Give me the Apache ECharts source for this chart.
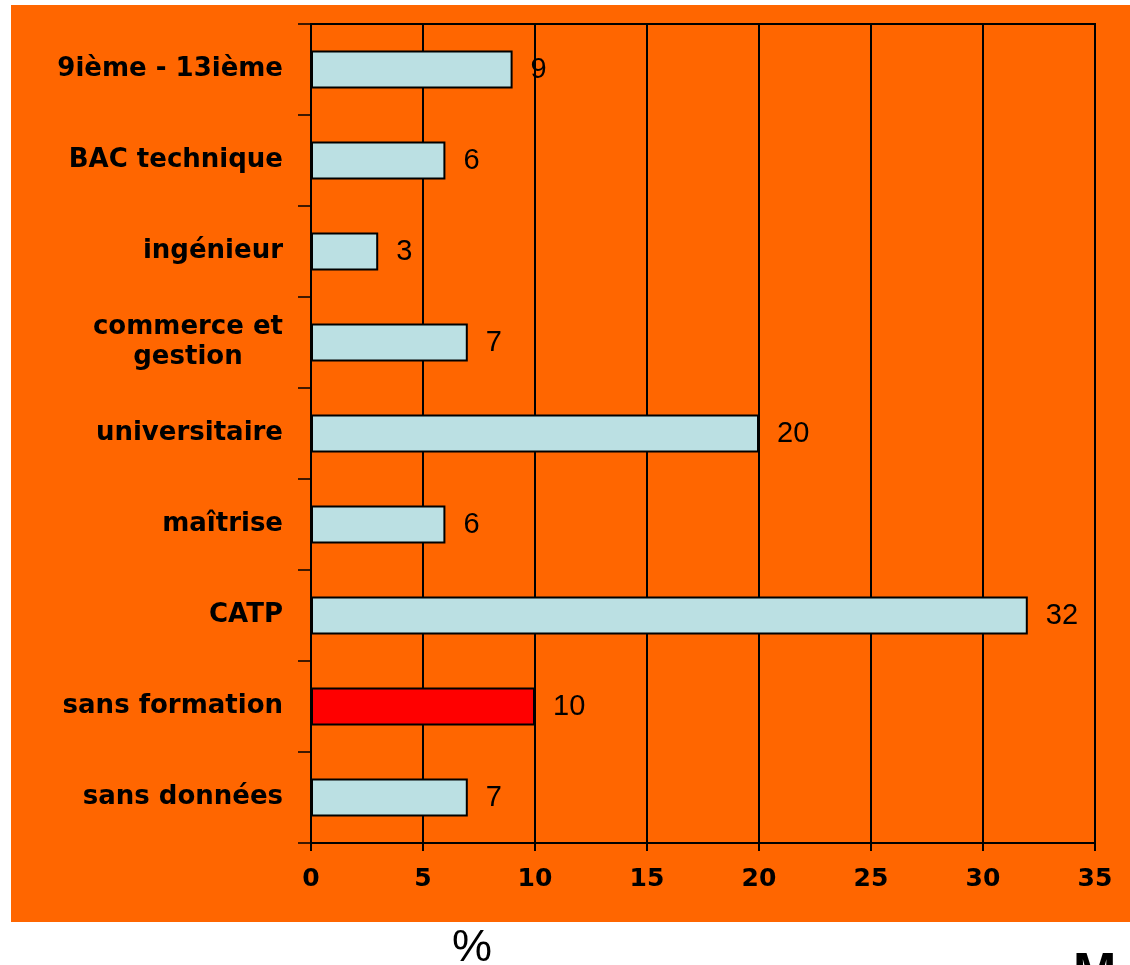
<!DOCTYPE html>
<html>
<head>
<meta charset="utf-8">
<script src="https://cdn.jsdelivr.net/npm/echarts@6/dist/echarts.min.js"></script>
<style>
html, body { margin: 0; padding: 0; background: #fff; }
#main { width: 1130px; height: 965px; }
</style>
</head>
<body>
<div id="main"></div>
<script>
// categories, top to bottom
var categories = ['9ième - 13ième', 'BAC technique', 'ingénieur', 'commerce et\ngestion', 'universitaire', 'maîtrise', 'CATP', 'sans formation', 'sans données'];
var values = [9, 6, 3, 7, 20, 6, 32, 10, 7];
var highlighted = 'sans formation';
var xTicks = [0, 5, 10, 15, 20, 25, 30, 35];

var barData = [];
for (var i = 0; i < values.length; i++) {
	var item = { value: values[i] };
	if (categories[i] === highlighted) {
		item.itemStyle = { color: '#ff0000' };
	}
	barData.push(item);
}

var chart = echarts.init(document.getElementById('main'));
var option = {
	backgroundColor: '#ffffff',
	animation: false,
	graphic: [{
		type: 'rect',
		z: -10,
		shape: { x: 11, y: 5, width: 1119, height: 917 },
		style: { fill: '#ff6600' }
	}, {
		type: 'text',
		z: 10,
		left: 452,
		top: 926,
		style: { text: '%', font: '45px "Liberation Sans", Arial, sans-serif', fill: '#000' }
	}, {
		type: 'text',
		z: 10,
		left: 1073,
		top: 949,
		style: { text: 'M', font: 'bold 52px "Liberation Sans", Arial, sans-serif', fill: '#000' }
	}],
	grid: {
		left: 311,
		right: 35,
		top: 24,
		bottom: 122,
		show: true,
		borderColor: '#000',
		borderWidth: 2,
		backgroundColor: 'transparent'
	},
	xAxis: {
		type: 'value',
		min: xTicks[0],
		max: xTicks[xTicks.length - 1],
		interval: 5,
		axisLine: { show: true, lineStyle: { color: '#000', width: 2 } },
		axisTick: { show: true, length: 8, lineStyle: { color: '#000', width: 2 } },
		splitLine: { show: true, lineStyle: { color: '#000', width: 2 } },
		axisLabel: {
			margin: 24,
			color: '#000',
			fontFamily: '"DejaVu Sans", sans-serif',
			fontWeight: 'bold',
			fontSize: 25
		}
	},
	yAxis: {
		type: 'category',
		inverse: true,
		data: categories,
		axisLine: { show: true, lineStyle: { color: '#000', width: 2 } },
		axisTick: { show: true, length: 13, lineStyle: { color: '#000', width: 1.5 } },
		splitLine: { show: false },
		axisLabel: {
			margin: 28,
			color: '#000',
			fontFamily: '"DejaVu Sans", sans-serif',
			fontWeight: 'bold',
			fontSize: 26,
			lineHeight: 30,
			formatter: function (v) {
				if (v.indexOf('\n') < 0) return v;
				return v.split('\n').map(function (s) { return '{c|' + s + '}'; }).join('\n');
			},
			rich: {
				c: {
					align: 'center',
					color: '#000',
					fontFamily: '"DejaVu Sans", sans-serif',
					fontWeight: 'bold',
					fontSize: 26,
					lineHeight: 30
				}
			}
		}
	},
	series: [{
		type: 'bar',
		data: barData,
		barWidth: 38,
		itemStyle: {
			color: '#bbe0e3',
			borderColor: '#000',
			borderWidth: 2
		},
		label: {
			show: true,
			position: 'right',
			distance: 18,
			color: '#000',
			fontFamily: '"Liberation Sans", Arial, sans-serif',
			fontSize: 29
		}
	}]
};
chart.setOption(option);
</script>
</body>
</html>
